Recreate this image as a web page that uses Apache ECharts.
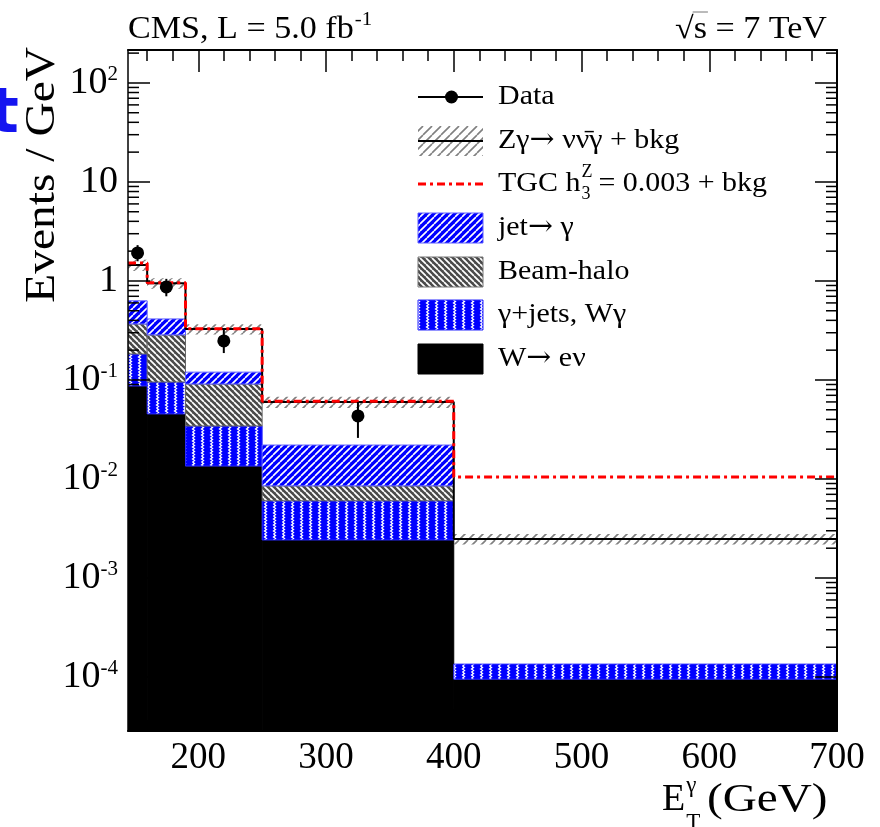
<!DOCTYPE html>
<html>
<head>
<meta charset="utf-8">
<script src="https://cdn.jsdelivr.net/npm/echarts@6/dist/echarts.min.js"></script>
<style>
  html, body { margin: 0; padding: 0; background: #fff; }
  #chart { width: 880px; height: 827px; }
</style>
</head>
<body>
<div id="chart"></div>
<script>
// Photon E_T bins (GeV)
const binEdges = [145, 160, 190, 250, 400, 700];

// Background components, Events / GeV
const wenu     = [0.087, 0.0454, 0.0135, 0.00242, 0.000095];
const gjetsWg  = [0.096, 0.050, 0.0208, 0.0036, 0.000040];
const beamHalo = [0.185, 0.19, 0.0567, 0.0025, 0];
const jetFake  = [0.262, 0.128, 0.029, 0.0135, 0];

// SM expectation (Zγ → ννγ + bkg) with relative uncertainty
const smTotal  = [1.45, 0.95, 0.327, 0.060, 0.00248];
const smRelUnc = [0.13, 0.12, 0.12, 0.13, 0.12];

// Anomalous TGC prediction (h3Z = 0.003) + bkg
const tgcTotal = [1.52, 0.96, 0.33, 0.061, 0.0105];

// Observed data with error bar ends
const dataVal  = [1.92, 0.87, 0.248, 0.0433];
const dataLow  = [1.58, 0.70, 0.187, 0.026];
const dataHigh = [2.30, 1.05, 0.32, 0.060];

// Axis ranges and tick values
const xMin = 145, xMax = 700;
const yMin = 2.85e-5, yMax = 215;
const xMajorTicks = [200, 300, 400, 500, 600, 700];
const xMinorTicks = [];
for (let v = 160; v < 700; v += 20) if (v % 100 !== 0) xMinorTicks.push(v);
const yMinorTicks = [];
for (let e = -5; e <= 2; e++) for (let m = 2; m <= 9; m++) {
  const v = m * Math.pow(10, e);
  if (v > yMin && v < yMax) yMinorTicks.push(v);
}

const FONT = '"Liberation Serif", "Times New Roman", serif';
const ARROW_FONT = '"DejaVu Serif", serif';

// ---- fill patterns -------------------------------------------------------
function pattern(w, h, bg, draw) {
  const c = document.createElement('canvas');
  c.width = w; c.height = h;
  const g = c.getContext('2d');
  if (bg) { g.fillStyle = bg; g.fillRect(0, 0, w, h); }
  draw(g, w, h);
  return { image: c, repeat: 'repeat' };
}
function diag(g, s, dir) {
  g.beginPath();
  for (let k = -s; k <= s; k += s) {
    if (dir > 0) { g.moveTo(k, s); g.lineTo(k + s, 0); }
    else { g.moveTo(k, 0); g.lineTo(k + s, s); }
  }
  g.stroke();
}
const patBand = pattern(9, 9, null, (g, w) => { g.strokeStyle = '#808080'; g.lineWidth = 1.6; diag(g, w, 1); });
const patJet = pattern(7, 7, '#0000ff', (g, w) => { g.strokeStyle = '#ffffff'; g.lineWidth = 1.6; diag(g, w, 1); });
const patHalo = pattern(6, 6, '#4a4a4a', (g, w) => { g.strokeStyle = '#ffffff'; g.lineWidth = 1.7; diag(g, w, -1); });
const patGjets = pattern(9, 6, '#0000ff', (g) => {
  g.strokeStyle = '#ffffff'; g.lineWidth = 1.3;
  g.beginPath(); g.moveTo(3.5, 0); g.lineTo(5.5, 1.5); g.lineTo(3.5, 3); g.lineTo(5.5, 4.5); g.lineTo(3.5, 6); g.stroke();
});

// ---- series builders -----------------------------------------------------
function rectRender(fill, stroke) {
  return function (params, api) {
    const a = api.coord([api.value(0), api.value(3)]);
    const b = api.coord([api.value(1), api.value(2)]);
    return {
      type: 'rect',
      shape: { x: a[0], y: a[1], width: b[0] - a[0], height: b[1] - a[1] },
      style: { fill: fill, stroke: stroke, lineWidth: stroke ? 1 : 0 }
    };
  };
}

const layers = [
  { name: 'W→eν', vals: wenu, fill: '#000000', stroke: '#000000' },
  { name: 'γ+jets, Wγ', vals: gjetsWg, fill: patGjets, stroke: '#2a2aff' },
  { name: 'Beam-halo', vals: beamHalo, fill: patHalo, stroke: '#666666' },
  { name: 'jet→γ', vals: jetFake, fill: patJet, stroke: '#6060ff' }
];
const cum = binEdges.slice(0, -1).map(() => 0);
const stackSeries = layers.map((L, k) => {
  const rows = [];
  L.vals.forEach((v, i) => {
    if (v > 0) {
      rows.push([binEdges[i], binEdges[i + 1], Math.max(cum[i], yMin), cum[i] + v]);
      cum[i] += v;
    }
  });
  return {
    name: L.name, type: 'custom', z: 2 + k * 0.01, clip: true, silent: true,
    encode: { x: [0, 1], y: [2, 3] },
    renderItem: rectRender(L.fill, L.stroke), data: rows
  };
});

function stepPoints(vals) {
  const pts = [];
  vals.forEach((v, i) => { pts.push([binEdges[i], v]); pts.push([binEdges[i + 1], v]); });
  return pts;
}

const bandRows = smTotal.map((v, i) => [binEdges[i], binEdges[i + 1], v * (1 - smRelUnc[i]), v * (1 + smRelUnc[i])]);
const centers = dataVal.map((_, i) => (binEdges[i] + binEdges[i + 1]) / 2);

const series = stackSeries.concat([
  {
    name: 'SM uncertainty', type: 'custom', z: 3, clip: true, silent: true,
    encode: { x: [0, 1], y: [2, 3] },
    renderItem: rectRender(patBand, null), data: bandRows
  },
  {
    name: 'Zγ→ννγ + bkg', type: 'line', z: 4, symbol: 'none', silent: true,
    lineStyle: { color: '#000000', width: 2 }, data: stepPoints(smTotal)
  },
  {
    name: 'TGC', type: 'line', z: 5, symbol: 'none', silent: true,
    lineStyle: { color: '#ff0000', width: 3, type: [8, 4, 3, 4] }, data: stepPoints(tgcTotal)
  },
  {
    name: 'Data errors', type: 'custom', z: 6, silent: true,
    encode: { x: 0, y: [1, 2] },
    renderItem: function (params, api) {
      const a = api.coord([api.value(0), api.value(1)]);
      const b = api.coord([api.value(0), api.value(2)]);
      return { type: 'line', shape: { x1: a[0], y1: a[1], x2: b[0], y2: b[1] }, style: { stroke: '#000', lineWidth: 2 } };
    },
    data: centers.map((c, i) => [c, dataLow[i], dataHigh[i]])
  },
  {
    name: 'Data', type: 'scatter', z: 7, symbol: 'circle', symbolSize: 13, silent: true,
    itemStyle: { color: '#000000', opacity: 1 }, data: centers.map((c, i) => [c, dataVal[i]])
  },
  {
    // minor ticks of the logarithmic y axis, on both sides of the frame
    name: 'y minor ticks', type: 'custom', z: 9, silent: true, clip: false,
    encode: { x: 0, y: 1 },
    renderItem: function (params, api) {
      const l = api.coord([xMin, api.value(1)]);
      const r = api.coord([xMax, api.value(1)]);
      return {
        type: 'group', children: [
          { type: 'line', shape: { x1: l[0], y1: l[1], x2: l[0] + 11, y2: l[1] }, style: { stroke: '#000', lineWidth: 1.5 } },
          { type: 'line', shape: { x1: r[0] - 11, y1: r[1], x2: r[0], y2: r[1] }, style: { stroke: '#000', lineWidth: 1.5 } }
        ]
      };
    },
    data: yMinorTicks.map(v => [xMin, v])
  }
]);

// ---- axes ----------------------------------------------------------------
const lineBlack = (w) => ({ show: true, lineStyle: { color: '#000', width: w } });
function xAxisDef(pos, ticks, len, labels, showLine) {
  return {
    type: 'value', position: pos, min: xMin, max: xMax, z: 10,
    axisLine: showLine ? lineBlack(2) : { show: false },
    splitLine: { show: false },
    axisTick: { show: true, inside: true, length: len, customValues: ticks, lineStyle: { color: '#000', width: 1.5 } },
    axisLabel: labels ? { show: true, customValues: ticks, fontFamily: FONT, fontSize: 37, color: '#000', margin: 9 } : { show: false }
  };
}
function yLabel(v) {
  const e = Math.log10(v);
  const r = Math.round(e);
  if (Math.abs(e - r) > 1e-6) return '';
  if (r === 0) return '{b|1}';
  if (r === 1) return '{b|10}';
  return '{b|10}{sup|' + r + '}';
}
function yAxisDef(pos, labels) {
  return {
    type: 'log', logBase: 10, position: pos, min: yMin, max: yMax, z: 10,
    axisLine: lineBlack(pos === 'left' ? 1.5 : 2),
    splitLine: { show: false }, minorTick: { show: false },
    axisTick: { show: true, inside: true, length: 22, lineStyle: { color: '#000', width: 1.5 } },
    axisLabel: labels ? {
      show: true, margin: 10, color: '#000', formatter: yLabel,
      showMinLabel: false, showMaxLabel: false,
      rich: {
        b: { fontFamily: FONT, fontSize: 38, color: '#000' },
        sup: { fontFamily: FONT, fontSize: 21, color: '#000', verticalAlign: 'top' }
      }
    } : { show: false }
  };
}

// ---- text helpers --------------------------------------------------------
const mctx = document.createElement('canvas').getContext('2d');
function textW(s, size, family) { mctx.font = size + 'px ' + (family || FONT); return mctx.measureText(s).width; }
function txt(s, x, y, size, extra) {
  const style = {
    text: s, fontSize: size, fontFamily: FONT, fill: '#000',
    align: 'left', verticalAlign: 'middle', textAlign: 'left', textVerticalAlign: 'middle'
  };
  const el = { type: 'text', x: x, y: y, z: 100, silent: true, style: style };
  if (extra) {
    if (extra.style) Object.assign(style, extra.style);
    Object.keys(extra).forEach(k => { if (k !== 'style') el[k] = extra[k]; });
  }
  return el;
}
// Lay out a row of text pieces, each piece may use its own font family
function textRuns(list, x, y, size, scale) {
  const out = [];
  let cx = x;
  list.forEach(r => {
    const fam = r[1] || FONT;
    out.push(txt(r[0], cx, y, size, { scaleX: scale, style: { fontFamily: fam } }));
    cx += textW(r[0], size, fam) * scale;
  });
  return { els: out, end: cx };
}

const graphics = [];

// Header texts
{
  const hs = 1.1;
  const s1 = 'CMS, L = 5.0 fb';
  graphics.push(txt(s1, 128, 30, 31, { scaleX: hs }));
  graphics.push(txt('-1', 128 + textW(s1, 31) * hs + 1, 20, 19, { scaleX: hs }));
  const s2 = '√s = 7 TeV';
  const w2 = textW(s2, 31) * hs;
  const x2 = 827 - w2;
  graphics.push(txt(s2, x2, 30, 31, { scaleX: hs }));
  const wRoot = textW('√', 31) * hs, wS = textW('s', 31) * hs;
  graphics.push({ type: 'line', z: 100, silent: true, shape: { x1: x2 + wRoot - 1, y1: 12, x2: x2 + wRoot + wS + 1, y2: 12 }, style: { stroke: '#777', lineWidth: 1 } });
}

// Axis titles
{
  const fx = 38, fs = 23;
  const x0 = 662;
  graphics.push(txt('E', x0, 800, fx));
  const xs = x0 + textW('E', fx) + 1;
  graphics.push(txt('γ', xs, 786, fs));
  graphics.push(txt('T', xs, 823, fs));
  graphics.push(txt('(GeV)', 707, 800, 40, { scaleX: 1.18 }));

  graphics.push(txt('Events / GeV', 43, 47, 42, {
    rotation: Math.PI / 2, scaleX: 1.13,
    style: { align: 'right', textAlign: 'right' }
  }));
}

// Blue glyph at the left edge
graphics.push({
  type: 'text', x: 19, y: 116, z: 100, silent: true,
  style: {
    text: 't', fontSize: 62, fontWeight: 'bold', fontFamily: '"DejaVu Sans", sans-serif', fill: '#1414f0',
    align: 'right', verticalAlign: 'middle', textAlign: 'right', textVerticalAlign: 'middle'
  }
});

// Legend
{
  const ix = 418, iw = 65, ih = 30, tx = 498, fsz = 28, ls = 1.07;
  const rows = [97, 141, 184, 228, 272, 315, 359];
  const arrow = ['\u2192', ARROW_FONT];
  const addRuns = (list, y) => { const r = textRuns(list, tx, y, fsz, ls); r.els.forEach(e => graphics.push(e)); return r.end; };
  // Data
  graphics.push({ type: 'line', z: 100, silent: true, shape: { x1: ix, y1: rows[0], x2: ix + iw, y2: rows[0] }, style: { stroke: '#000', lineWidth: 2 } });
  graphics.push({ type: 'circle', z: 101, silent: true, shape: { cx: ix + iw / 2 + 1, cy: rows[0], r: 6.5 }, style: { fill: '#000' } });
  addRuns([['Data']], rows[0]);
  // SM
  graphics.push({ type: 'rect', z: 100, silent: true, shape: { x: ix, y: rows[1] - ih / 2, width: iw, height: ih }, style: { fill: patBand } });
  graphics.push({ type: 'line', z: 101, silent: true, shape: { x1: ix, y1: rows[1], x2: ix + iw, y2: rows[1] }, style: { stroke: '#000', lineWidth: 2 } });
  addRuns([['Zγ'], arrow, [' νν\u0304γ + bkg']], rows[1]);
  // TGC
  graphics.push({ type: 'line', z: 100, silent: true, shape: { x1: ix, y1: rows[2], x2: ix + iw, y2: rows[2] }, style: { stroke: '#ff0000', lineWidth: 3, lineDash: [8, 4, 3, 4] } });
  const xsub = addRuns([['TGC h']], rows[2]) + 1;
  graphics.push(txt('Z', xsub, rows[2] - 12, 18));
  graphics.push(txt('3', xsub, rows[2] + 10, 18));
  graphics.push(txt('= 0.003 + bkg', xsub + Math.max(textW('Z', 18), textW('3', 18)) + 6, rows[2], fsz, { scaleX: ls }));
  // Filled components
  const boxes = [
    [rows[3], patJet, '#6060ff', [['jet'], arrow, [' γ']]],
    [rows[4], patHalo, '#777777', [['Beam-halo']]],
    [rows[5], patGjets, '#2a2aff', [['γ+jets, Wγ']]],
    [rows[6], '#000000', '#000000', [['W'], arrow, [' eν']]]
  ];
  boxes.forEach(b => {
    graphics.push({ type: 'rect', z: 100, silent: true, shape: { x: ix, y: b[0] - ih / 2, width: iw, height: ih }, style: { fill: b[1], stroke: b[2], lineWidth: 1 } });
    addRuns(b[3], b[0]);
  });
}

const chart = echarts.init(document.getElementById('chart'), null, { renderer: 'canvas' });
chart.setOption({
  animation: false,
  backgroundColor: '#ffffff',
  grid: { left: 128, top: 50, width: 709, height: 681, containLabel: false, outerBoundsMode: 'none' },
  xAxis: [
    xAxisDef('bottom', xMajorTicks, 22, true, true),
    xAxisDef('top', xMajorTicks, 22, false, true),
    xAxisDef('bottom', xMinorTicks, 11, false, false),
    xAxisDef('top', xMinorTicks, 11, false, false)
  ],
  yAxis: [yAxisDef('left', true), yAxisDef('right', false)],
  series: series,
  graphic: { elements: graphics }
});
</script>
</body>
</html>
